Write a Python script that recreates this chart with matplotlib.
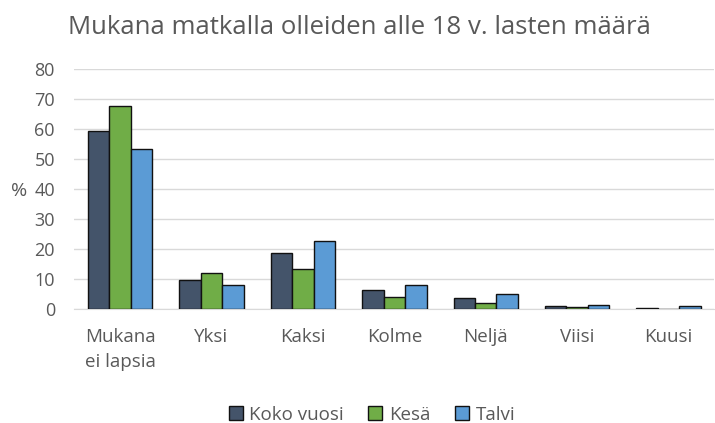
import numpy as np
import matplotlib.pyplot as plt

plt.rcParams['font.family'] = ['Open Sans', 'DejaVu Sans']

kategoriat = ["Mukana\nei lapsia", "Yksi", "Kaksi", "Kolme", "Neljä", "Viisi", "Kuusi"]
koko_vuosi = [59.3, 9.7, 18.7, 6.3, 3.7, 1.0, 0.3]
kesa = [67.6, 12.1, 13.3, 4.0, 2.0, 0.7, 0.0]
talvi = [53.3, 8.1, 22.7, 8.1, 5.0, 1.3, 1.0]
sarjat = ["Koko vuosi", "Kesä", "Talvi"]
varit = ["#44546A", "#70AD47", "#5B9BD5"]

fig = plt.figure(figsize=(7.15, 4.23), dpi=100)
ax = fig.add_axes([0.104, 0.2695, 0.895, 0.5675])

x = np.arange(len(kategoriat))
w = 0.235
for i, (arvot, nimi, vari) in enumerate(zip([koko_vuosi, kesa, talvi], sarjat, varit)):
    ax.bar(x + (i - 1) * w, arvot, w, color=vari, edgecolor="#111111", linewidth=1.0,
           label=nimi, zorder=3)

ax.set_xlim(-0.5, len(kategoriat) - 0.5)
ax.set_ylim(0, 80)
ax.set_yticks(range(0, 81, 10))
ax.yaxis.grid(True, color="#D9D9D9", linewidth=1, zorder=0)
for s in ["top", "right", "left"]:
    ax.spines[s].set_visible(False)
ax.spines["bottom"].set_color("#D9D9D9")
ax.tick_params(axis="y", length=0, labelsize=13, colors="#595959", pad=14)
ax.set_xticks(x)
ax.set_xticklabels(kategoriat, linespacing=1.45)
ax.tick_params(axis="x", length=0, labelsize=13.5, colors="#595959", pad=14)
ax.set_ylabel("%", rotation=0, fontsize=14, color="#595959", va="center", ha="center")
ax.yaxis.set_label_coords(-0.087, 0.49)

fig.text(0.095, 0.935, "Mukana matkalla olleiden alle 18 v. lasten määrä",
         fontsize=18.5, color="#595959", va="center")

ax.legend(loc="center", bbox_to_anchor=(0.465, -0.44), ncol=3, frameon=False,
          fontsize=13.5, labelcolor="#595959", handlelength=0.75, handleheight=0.75,
          handletextpad=0.35, columnspacing=1.3)

fig.savefig("out.png", dpi=100)
